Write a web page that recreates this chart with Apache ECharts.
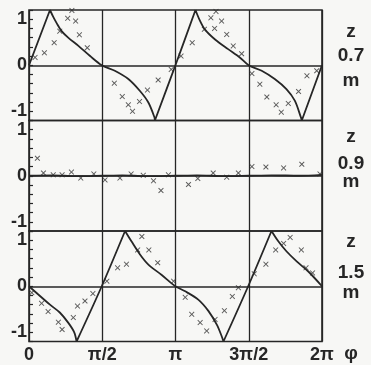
<!DOCTYPE html>
<html><head><meta charset="utf-8">
<script src="https://cdn.jsdelivr.net/npm/echarts@6/dist/echarts.min.js"></script>
<style>html,body{margin:0;padding:0;background:#f7f7f5;}#c{width:371px;height:365px;}</style>
</head><body><div id="c"></div>
<script>
// ---- data ----
const xTickLabels = ['0', 'π/2', 'π', '3π/2', '2π'];
const yTickLabels = {'1': '1', '0': '0', '-1': '-1'};
const panelNames = ['0.7', '0.9', '1.5'];

// z = 0.7 m : solid line
const line07Phi = [0, 0.45, 0.52, 0.59, 0.70, 0.84, 1.06, 1.31, 1.56, 1.84, 2.13, 2.38, 2.56, 2.69, 2.70, 3.14, 3.57, 3.66, 3.77, 3.99, 4.27, 4.52, 4.71, 4.99, 5.27, 5.52, 5.70, 5.83, 5.85, 6.283];
const line07Val = [0, 1.2, 1.05, 0.92, 0.74, 0.60, 0.42, 0.20, 0, -0.12, -0.30, -0.56, -0.81, -1.13, -1.2, 0, 1.2, 0.98, 0.78, 0.56, 0.35, 0.17, 0, -0.12, -0.30, -0.52, -0.77, -1.13, -1.2, 0];
// z = 0.7 m : crosses
const x07Phi = [0.13, 0.33, 0.54, 0.66, 0.83, 0.92, 1.00, 1.08, 1.25, 1.83, 2.00, 2.13, 2.22, 2.37, 2.54, 2.77, 3.05, 3.26, 3.50, 3.76, 3.90, 3.98, 4.01, 4.13, 4.24, 4.38, 4.56, 4.78, 4.95, 5.10, 5.30, 5.41, 5.56, 5.78, 5.96, 6.17];
const x07Val = [0.17, 0.27, 0.49, 0.74, 1.02, 1.19, 0.96, 0.66, 0.38, -0.39, -0.68, -0.86, -1.0, -0.79, -0.54, -0.32, -0.09, 0.20, 0.49, 0.78, 1.03, 0.80, 1.17, 0.96, 0.67, 0.42, 0.25, -0.18, -0.41, -0.69, -0.86, -1.02, -0.83, -0.57, -0.23, -0.12];

// z = 0.9 m
const line09Phi = [0, 0.5, 1.0, 1.57, 2.0, 2.5, 3.14, 3.6, 4.2, 4.71, 5.2, 5.8, 6.283];
const line09Val = [0, 0.01, -0.01, 0, 0.01, -0.01, 0, 0.01, -0.01, 0, 0.01, 0, 0.02];
const x09Phi = [0.18, 0.31, 0.52, 0.71, 0.91, 1.11, 1.39, 1.63, 1.95, 2.19, 2.45, 2.67, 2.83, 2.99, 3.42, 3.62, 3.95, 4.24, 4.49, 4.78, 5.08, 5.46, 5.85, 6.24];
const x09Val = [0.38, 0.06, 0.02, 0.02, 0.08, -0.05, 0.04, -0.09, -0.05, 0.04, 0.01, -0.11, -0.32, 0.02, -0.19, -0.06, 0.06, -0.03, 0.06, 0.20, 0.19, 0.17, 0.25, 0.04];

// z = 1.5 m
const line15Phi = [0, 0.2, 0.45, 0.66, 0.84, 0.97, 1.02, 1.56, 2.06, 2.20, 2.38, 2.56, 2.84, 3.14, 3.35, 3.63, 3.85, 4.03, 4.13, 4.17, 4.70, 5.20, 5.35, 5.52, 5.74, 5.99, 6.283];
const line15Val = [0, -0.18, -0.40, -0.57, -0.79, -1.0, -1.2, 0, 1.2, 0.97, 0.69, 0.47, 0.25, 0, -0.11, -0.29, -0.54, -0.84, -1.08, -1.2, 0, 1.2, 0.97, 0.76, 0.54, 0.32, 0];
const x15Phi = [0.06, 0.27, 0.41, 0.63, 0.71, 0.95, 1.04, 1.20, 1.37, 1.67, 1.90, 2.09, 2.33, 2.42, 2.57, 2.76, 3.10, 3.35, 3.49, 3.67, 3.81, 3.99, 4.19, 4.36, 4.49, 4.83, 5.08, 5.29, 5.46, 5.60, 5.84, 5.94, 6.08];
const x15Val = [-0.14, -0.37, -0.55, -0.78, -0.94, -0.68, -0.43, -0.32, -0.16, 0.11, 0.40, 0.48, 0.79, 1.08, 0.79, 0.51, 0.11, -0.24, -0.61, -0.79, -0.97, -0.72, -0.53, -0.22, -0.03, 0.27, 0.48, 0.79, 0.93, 1.06, 0.79, 0.40, 0.29];

const lines = [[line07Phi, line07Val], [line09Phi, line09Val], [line15Phi, line15Val]];
const marks = [[x07Phi, x07Val], [x09Phi, x09Val], [x15Phi, x15Val]];

// ---- layout / style ----
const FONT = '"Liberation Sans", Arial, sans-serif';
const INK = '#262626';
const gridTops = [10, 120.5, 231];
const gridH = 110.5;
const crossPath = 'path://M0,1.2L1.2,0L5,3.8L8.8,0L10,1.2L6.2,5L10,8.8L8.8,10L5,6.2L1.2,10L0,8.8L3.8,5Z';

// break the line at its cusps (|value| at the panel edge) so smoothing keeps the points sharp
function withCusps(phi, val) {
  const out = [];
  for (let k = 0; k < phi.length; k++) {
    out.push([phi[k], val[k]]);
    if (k > 0 && k < phi.length - 1 && Math.abs(val[k]) >= 1.2) { out.push(null); out.push([phi[k], val[k]]); }
  }
  return out;
}

const grids = [], xAxes = [], yAxes = [], series = [];
for (let i = 0; i < 3; i++) {
  grids.push({left: 29, width: 293, top: gridTops[i], height: gridH, show: true,
    borderColor: INK, borderWidth: 1.6, backgroundColor: 'transparent'});
  xAxes.push({type: 'value', gridIndex: i, min: 0, max: 2 * Math.PI, interval: Math.PI / 2,
    axisLine: {show: false}, axisTick: {show: false},
    splitLine: {show: true, lineStyle: {color: INK, width: 1.3}},
    axisLabel: {show: i === 2, margin: 5, color: INK, fontFamily: FONT, fontWeight: 'bold', fontSize: 18,
      formatter: v => xTickLabels[Math.round(v / (Math.PI / 2))]}});
  yAxes.push({type: 'value', gridIndex: i, min: -1.2, max: 1.2, interval: 0.2,
    axisLine: {show: false}, splitLine: {show: false},
    axisTick: {show: true, inside: true, length: 4, lineStyle: {color: INK, width: 1.2}},
    axisLabel: {show: true, margin: 2, color: INK, fontFamily: FONT, fontWeight: 'bold', fontSize: 18,
      formatter: v => Math.abs(v - Math.round(v)) < 1e-6 && yTickLabels[String(Math.round(v))] !== undefined ? yTickLabels[String(Math.round(v))] : ''}});
  series.push({type: 'line', xAxisIndex: i, yAxisIndex: i, showSymbol: false, symbol: 'none',
    smooth: 0.3, connectNulls: false,
    data: withCusps(lines[i][0], lines[i][1]),
    lineStyle: {color: INK, width: 1.8}, animation: false,
    markLine: {silent: true, symbol: ['none', 'none'], label: {show: false},
      lineStyle: {color: INK, width: 1.6, type: 'solid'}, data: [{yAxis: 0}], animation: false}});
  series.push({type: 'scatter', xAxisIndex: i, yAxisIndex: i, symbol: crossPath, symbolSize: 5.5,
    itemStyle: {color: '#333'}, animation: false,
    data: marks[i][0].map((p, k) => [p, marks[i][1][k]])});
}

const rightLabels = [
  {t: 'z', y: 32}, {t: panelNames[0], y: 56}, {t: 'm', y: 81},
  {t: 'z', y: 137}, {t: panelNames[1], y: 164}, {t: 'm', y: 182},
  {t: 'z', y: 242}, {t: panelNames[2], y: 273}, {t: 'm', y: 293},
  {t: 'φ', y: 354}
];
const graphic = rightLabels.map(l => ({type: 'text', x: 351, y: l.y,
  style: {text: l.t, fill: INK, font: 'bold 19px ' + FONT, align: 'center', verticalAlign: 'middle',
    textAlign: 'center', textVerticalAlign: 'middle'}}));

const chart = echarts.init(document.getElementById('c'), null, {renderer: 'canvas'});
chart.setOption({backgroundColor: '#f7f7f5', animation: false, grid: grids, xAxis: xAxes, yAxis: yAxes,
  series: series, graphic: graphic});
</script></body></html>
